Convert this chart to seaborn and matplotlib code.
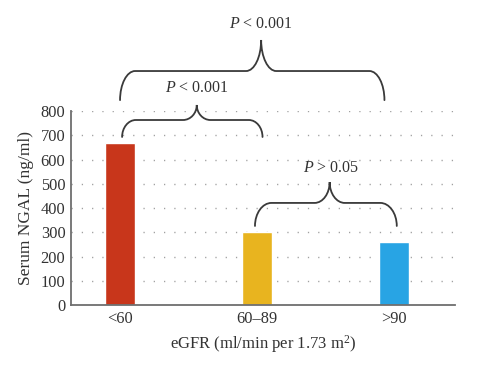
import matplotlib
matplotlib.use("Agg")
import matplotlib.pyplot as plt
import seaborn as sns
import pandas as pd
from matplotlib.path import Path
from matplotlib.patches import PathPatch

categories = ["<60", "60\u201389", ">90"]
values = [668, 301, 260]
colors = ["#C8361B", "#E8B41F", "#28A4E4"]
y_ticks = [0, 100, 200, 300, 400, 500, 600, 700, 800]
p_labels = [r"$P$ < 0.001", r"$P$ < 0.001", r"$P$ > 0.05"]

sns.set_theme(style="white")
plt.rcParams["font.family"] = ["Liberation Serif", "DejaVu Serif"]
plt.rcParams["mathtext.fontset"] = "custom"
plt.rcParams["mathtext.rm"] = "Liberation Serif"
plt.rcParams["mathtext.it"] = "Liberation Serif:italic"

df = pd.DataFrame({"cat": categories, "val": values})

fig = plt.figure(figsize=(5, 3.69), dpi=100)
ax = fig.add_axes([0.142, 0.1734, 0.768, 0.5257])
sns.barplot(data=df, x="cat", y="val", hue="cat", palette=colors,
            width=0.22, legend=False, ax=ax, saturation=1)

ax.set_ylim(0, 800)
ax.set_xlim(-0.358, 2.445)
ax.set_yticks(y_ticks)
for t in y_ticks[1:]:
    ax.axhline(t, color="#a0a0a0", lw=1.0, ls=(0, (0.9, 6.5)), zorder=0)

for s in ["top", "right"]:
    ax.spines[s].set_visible(False)
for s in ["left", "bottom"]:
    ax.spines[s].set_color("#6e6e6e")
    ax.spines[s].set_linewidth(1.3)
ax.tick_params(axis="both", length=0, labelsize=11.8, colors="#333333", pad=4)
ax.set_ylabel("Serum NGAL (ng/ml)", fontsize=12.5, color="#333333", labelpad=5)
ax.set_xlabel("eGFR (ml/min per 1.73 m$^2$)", fontsize=12, color="#333333", labelpad=5)


def brace(x0, x1, xm, ybot, yflat, ytip, rx=0.11, rm=0.11, k=0.55):
    h = yflat - ybot
    ht = ytip - yflat
    verts = [
        (x0, ybot),
        (x0, ybot + k * h), (x0 + rx - k * rx, yflat), (x0 + rx, yflat),
        (xm - rm, yflat),
        (xm - rm + k * rm, yflat), (xm, yflat + (1 - k) * ht), (xm, ytip),
        (xm, yflat + (1 - k) * ht), (xm + rm - k * rm, yflat), (xm + rm, yflat),
        (x1 - rx, yflat),
        (x1 - rx + k * rx, yflat), (x1, ybot + k * h), (x1, ybot),
    ]
    codes = [Path.MOVETO,
             Path.CURVE4, Path.CURVE4, Path.CURVE4,
             Path.LINETO,
             Path.CURVE4, Path.CURVE4, Path.CURVE4,
             Path.CURVE4, Path.CURVE4, Path.CURVE4,
             Path.LINETO,
             Path.CURVE4, Path.CURVE4, Path.CURVE4]
    patch = PathPatch(Path(verts, codes), fill=False, edgecolor="#3a3a3a",
                      lw=1.3, clip_on=False, capstyle="round")
    ax.add_patch(patch)


# top brace: <60 vs >90
brace(0.0, 1.93, 1.03, 845, 965, 1093)
ax.text(1.03, 1160, p_labels[0], ha="center", va="center", fontsize=11.5,
        color="#333333", clip_on=False)
# <60 vs 60-89
brace(0.015, 1.04, 0.56, 693, 763, 825, rx=0.1, rm=0.1)
ax.text(0.56, 895, p_labels[1], ha="center", va="center", fontsize=11.5,
        color="#333333", clip_on=False)
# 60-89 vs >90
brace(0.985, 2.02, 1.53, 326, 421, 507, rx=0.12, rm=0.11)
ax.text(1.54, 565, p_labels[2], ha="center", va="center", fontsize=11.5,
        color="#333333", clip_on=False)

fig.savefig("out.png", dpi=100)
